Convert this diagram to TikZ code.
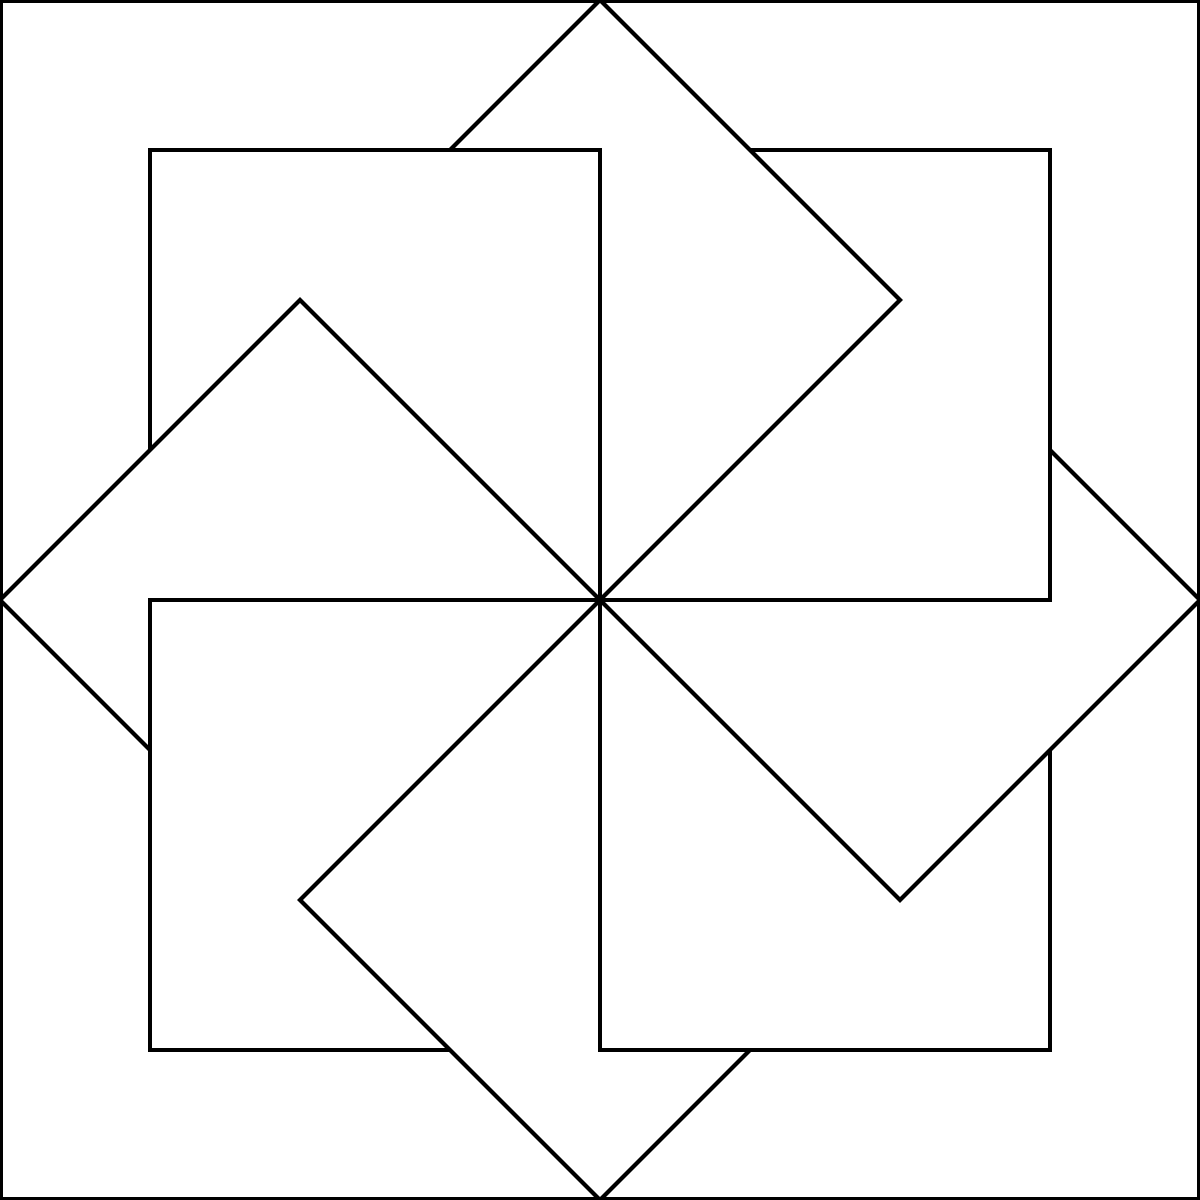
\documentclass[tikz,border=0pt]{standalone}
\begin{document}
\begin{tikzpicture}[x=0.01cm,y=-0.01cm,
  edgeline/.style={draw=black,line width=0.04cm,line join=miter},
  frameline/.style={draw=black,line width=0.03cm}]
\useasboundingbox (0,0) rectangle (1200,1200);
% outer frame
\draw[frameline] (1.5,1.5) rectangle (1198.5,1198.5);
% axis-aligned squares
\draw[edgeline] (150,450) -- (150,150) -- (600,150) -- (600,600);
\draw[edgeline] (750,150) -- (1050,150) -- (1050,600) -- (600,600);
\draw[edgeline] (1050,750) -- (1050,1050) -- (600,1050) -- (600,600);
\draw[edgeline] (450,1050) -- (150,1050) -- (150,600) -- (600,600);
% rotated squares
\draw[edgeline] (450,150) -- (600,0) -- (900,300) -- (600,600);
\draw[edgeline] (600,600) -- (300,300) -- (0,600) -- (150,750);
\draw[edgeline] (1050,450) -- (1200,600) -- (900,900) -- (600,600);
\draw[edgeline] (750,1050) -- (600,1200) -- (300,900) -- (600,600);
\end{tikzpicture}
\end{document}
